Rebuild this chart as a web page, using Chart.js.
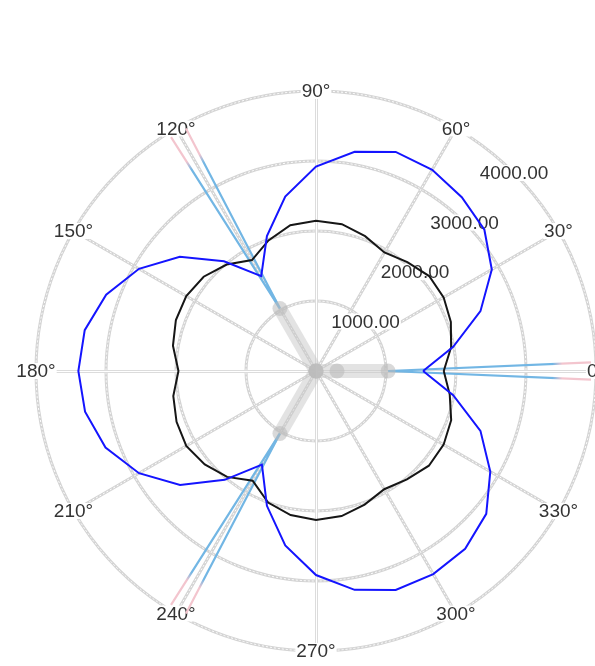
<!DOCTYPE html>
<html>
<head>
<meta charset="utf-8">
<script src="https://cdn.jsdelivr.net/npm/chart.js@4.4.1/dist/chart.umd.min.js"></script>
<style>
  html, body { margin: 0; padding: 0; background: #ffffff; }
  canvas { display: block; }
</style>
</head>
<body>
<canvas id="polar" width="595" height="666"></canvas>
<script>
// Angular grid (degrees) and its labels
const angleTicks  = [0, 30, 60, 90, 120, 150, 180, 210, 240, 270, 300, 330];
const angleLabels = ['0°', '30°', '60°', '90°', '120°', '150°', '180°', '210°', '240°', '270°', '300°', '330°'];

// Radial grid rings and their labels
const radialTicks      = [1000, 2000, 3000, 4000];
const radialTickLabels = ['1000.00', '2000.00', '3000.00', '4000.00'];
const radialMax = 4000;

// Outer three-lobed pattern (blue), sampled every 10°
const lobeAngles = [0, 10, 20, 30, 40, 50, 60, 70, 80, 90, 100, 110, 120, 130, 140, 150, 160, 170, 180,
                    190, 200, 210, 220, 230, 240, 250, 260, 270, 280, 290, 300, 310, 320, 330, 340, 350, 360];
const lobeValues = [1530, 1990, 2500, 2900, 3140, 3240, 3320, 3330, 3180, 2920, 2530, 2050, 1565,
                    2045, 2540, 2920, 3190, 3355, 3395, 3350, 3200, 2920, 2535, 2030, 1545,
                    2050, 2530, 2915, 3175, 3330, 3350, 3315, 3175, 2875, 2500, 1990, 1530];

// Inner pattern (black), sampled every 10°
const coreAngles = lobeAngles;
const coreValues = [1825, 1960, 2050, 2105, 2110, 2030, 1955, 2050, 2130, 2145, 2115, 1985, 1830,
                    1985, 2095, 2140, 2130, 2075, 1965, 2070, 2120, 2140, 2075, 1975, 1810,
                    2000, 2090, 2130, 2105, 2030, 1950, 2020, 2105, 2105, 2055, 1940, 1825];

// Narrow beams at 0°, 120°, 240°
const beamAngles    = [0, 120, 240];
const beamBase      = [1030, 1030, 1030];
const beamTip       = [3930, 3930, 3930];
const beamHalfAngle = [1.8, 1.8, 1.8];

// Hub arms (grey) with their marker radii
const hubAngles = [0, 120, 240];
const hubRadii  = [[0, 300, 1030], [0, 1030], [0, 1030]];

const toXY = (deg, r) => {
  const a = deg * Math.PI / 180;
  return { x: r * Math.cos(a), y: r * Math.sin(a) };
};

const FONT = '19px "Liberation Sans", Arial, sans-serif';

function doubleStroke(ctx, dotted) {
  ctx.setLineDash([]);
  ctx.lineWidth = 3;
  ctx.strokeStyle = dotted ? '#d4d4d4' : '#dcdcdc';
  ctx.stroke();
  ctx.lineWidth = 1;
  ctx.strokeStyle = '#ffffff';
  ctx.setLineDash(dotted ? [2, 2] : []);
  ctx.stroke();
  ctx.setLineDash([]);
}

function labelWithBox(ctx, text, px, py) {
  ctx.font = FONT;
  const w = ctx.measureText(text).width;
  ctx.fillStyle = '#ffffff';
  ctx.fillRect(px - w / 2 - 1, py - 8, w + 2, 16);
  ctx.fillStyle = '#333333';
  ctx.textAlign = 'center';
  ctx.textBaseline = 'middle';
  ctx.fillText(text, px, py + 1);
}

// Polar grid, axes and labels drawn from the chart's own x/y scales
const polarGrid = {
  id: 'polarGrid',
  beforeDatasetsDraw(chart) {
    const { ctx, scales: { x, y } } = chart;
    const cx = x.getPixelForValue(0);
    const cy = y.getPixelForValue(0);
    const rad = v => x.getPixelForValue(v) - cx;
    const R = rad(radialMax);
    ctx.save();

    radialTicks.forEach(v => {
      ctx.beginPath();
      ctx.arc(cx, cy, rad(v), 0, Math.PI * 2);
      doubleStroke(ctx, true);
    });

    angleTicks.forEach(deg => {
      if (deg % 90 === 0) return;
      const a = deg * Math.PI / 180;
      ctx.beginPath();
      ctx.moveTo(cx, cy);
      ctx.lineTo(cx + R * Math.cos(a), cy - R * Math.sin(a));
      doubleStroke(ctx, true);
    });

    // main axes through the pole
    ctx.beginPath();
    ctx.moveTo(cx - R, cy + 0.5); ctx.lineTo(cx + R, cy + 0.5);
    doubleStroke(ctx, false);
    ctx.beginPath();
    ctx.moveTo(cx + 0.5, cy - R); ctx.lineTo(cx + 0.5, cy + R);
    doubleStroke(ctx, false);

    angleTicks.forEach((deg, i) => {
      const a = deg * Math.PI / 180;
      labelWithBox(ctx, angleLabels[i], cx + R * Math.cos(a), cy - R * Math.sin(a));
    });

    radialTicks.forEach((v, i) => {
      const a = 45 * Math.PI / 180;
      const r = rad(v);
      labelWithBox(ctx, radialTickLabels[i], cx + r * Math.cos(a), cy - r * Math.sin(a));
    });

    ctx.restore();
  }
};

// Beam colour: light blue near the pole turning pink towards the tip
function beamColor(context) {
  const chart = context.chart;
  const { x, y } = chart.scales;
  const fallback = '#72b6e4';
  if (!x || !y || !chart.chartArea) return fallback;
  const cx = x.getPixelForValue(0);
  const cy = y.getPixelForValue(0);
  const rOut = x.getPixelForValue(4200) - cx;
  if (![cx, cy, rOut].every(Number.isFinite) || rOut <= 0) return fallback;
  const g = chart.ctx.createRadialGradient(cx, cy, 0, cx, cy, rOut);
  g.addColorStop(0, '#72b6e4');
  g.addColorStop(3380 / 4200, '#72b6e4');
  g.addColorStop(3520 / 4200, '#f3c5ce');
  g.addColorStop(1, '#f3c5ce');
  return g;
}

const datasets = [];

datasets.push({
  label: 'lobe',
  data: lobeAngles.map((d, i) => toXY(d, lobeValues[i])),
  showLine: true,
  borderColor: '#1414ff',
  borderWidth: 2,
  pointRadius: 0,
  tension: 0,
  clip: false,
  order: 0
});

datasets.push({
  label: 'core',
  data: coreAngles.map((d, i) => toXY(d, coreValues[i])),
  showLine: true,
  borderColor: '#161616',
  borderWidth: 2,
  pointRadius: 0,
  tension: 0,
  clip: false,
  order: 1
});

hubAngles.forEach((deg, i) => {
  datasets.push({
    label: 'hub ' + deg,
    data: hubRadii[i].map(r => toXY(deg, r)),
    showLine: true,
    borderColor: 'rgba(200,200,200,0.5)',
    borderWidth: 14,
    borderCapStyle: 'butt',
    pointRadius: 7.5,
    pointBorderWidth: 0,
    pointBackgroundColor: 'rgba(185,185,185,0.55)',
    tension: 0,
    clip: false,
    order: 2
  });
});

beamAngles.forEach((deg, i) => {
  datasets.push({
    label: 'beam ' + deg,
    data: [
      toXY(deg + beamHalfAngle[i], beamTip[i]),
      toXY(deg, beamBase[i]),
      toXY(deg - beamHalfAngle[i], beamTip[i])
    ],
    showLine: true,
    borderColor: beamColor,
    borderWidth: 2.2,
    pointRadius: 0,
    tension: 0,
    clip: false,
    order: 3
  });
});

// Pole at (316, 371) px, 1000 units = 70 px
const xMin = -316 / 0.07, xMax = (595 - 316) / 0.07;
const yMax = 371 / 0.07,  yMin = -(666 - 371) / 0.07;

const chart = new Chart(document.getElementById('polar'), {
  type: 'scatter',
  data: { datasets },
  options: {
    responsive: false,
    animation: false,
    events: [],
    layout: { padding: 0, autoPadding: false },
    plugins: { legend: { display: false }, tooltip: { enabled: false } },
    scales: {
      x: { type: 'linear', min: xMin, max: xMax, display: false },
      y: { type: 'linear', min: yMin, max: yMax, display: false }
    }
  },
  plugins: [polarGrid]
});
// re-resolve the beam gradient now that the scales have their pixel ranges
chart.update('none');
</script>
</body>
</html>
